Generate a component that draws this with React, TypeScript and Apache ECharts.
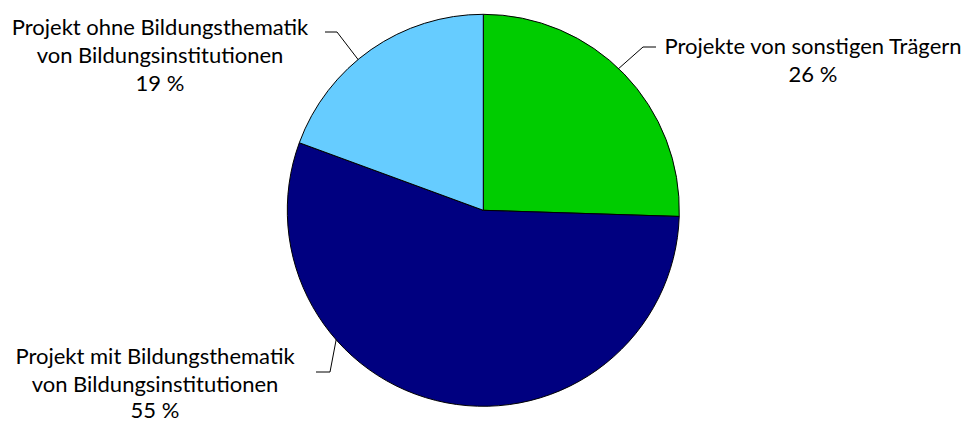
import React, { useEffect, useRef } from "react";
import * as echarts from "echarts";

const categories = [
  "Projekte von sonstigen Trägern",
  "Projekt mit Bildungsthematik\nvon Bildungsinstitutionen",
  "Projekt ohne Bildungsthematik\nvon Bildungsinstitutionen",
];
const values = [25.5, 55.1, 19.4];
const colors = ["#00CC00", "#000080", "#66CCFF"];

// label anchor (center x, top y), last-line height and leader line points per slice
const labelPos = [
  { x: 813, y: 31, last: 28, line: [[617, 70], [643, 47], [656, 47]] },
  { x: 155, y: 341, last: 24, line: [[338, 330], [330, 372], [316, 372]] },
  { x: 160, y: 12, last: 28, line: [[360, 62], [337, 32], [325, 32]] },
];

export default function App() {
  const ref = useRef<HTMLDivElement>(null);
  useEffect(() => {
    document.body.style.margin = "0";
    const chart = echarts.init(ref.current!, undefined, { renderer: "svg" });
    const textStyle = {
      fontFamily: "Lato",
      fontSize: 22,
      color: "#000000",
      align: "center",
    };
    chart.setOption({
      animation: false,
      backgroundColor: "#ffffff",
      series: [
        {
          type: "pie",
          center: [483.3, 210.3],
          radius: [0, 196],
          startAngle: 90,
          clockwise: true,
          avoidLabelOverlap: false,
          data: categories.map((name, i) => ({
            name,
            value: values[i],
            itemStyle: { color: colors[i] },
            label: {
              rich: {
                n: { ...textStyle, lineHeight: 28 },
                v: { ...textStyle, lineHeight: labelPos[i].last },
              },
            },
          })),
          itemStyle: { borderColor: "#000000", borderWidth: 1 },
          emphasis: { disabled: true },
          label: {
            show: true,
            formatter: (p: any) =>
              String(p.name)
                .split("\n")
                .map((s: string) => `{n|${s}}`)
                .join("\n") + `\n{v|${Math.round(p.value)} %}`,
            ...textStyle,
            lineHeight: 28,
          },
          labelLine: {
            show: true,
            lineStyle: { color: "#000000", width: 1 },
          },
          labelLayout: (params: any) => {
            const lp = labelPos[params.dataIndex];
            return {
              x: lp.x,
              y: lp.y,
              align: "center",
              verticalAlign: "top",
              labelLinePoints: lp.line,
            };
          },
        },
      ],
    });
    return () => chart.dispose();
  }, []);
  return <div ref={ref} style={{ width: 969, height: 421 }} />;
}
